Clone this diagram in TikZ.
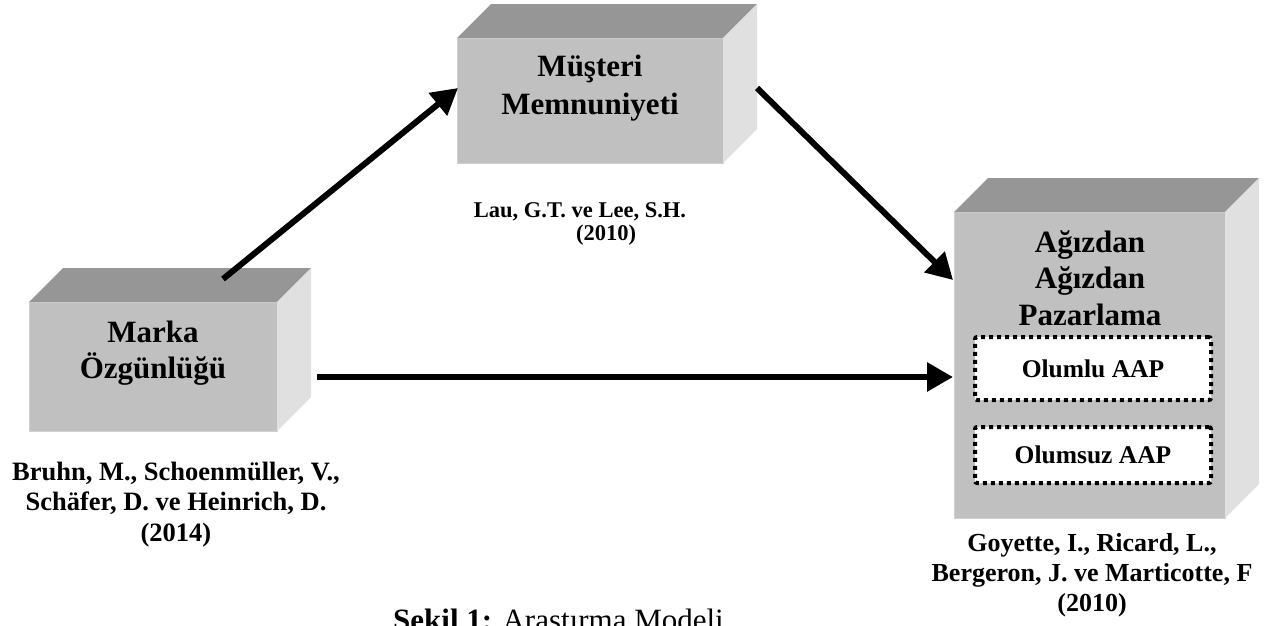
\documentclass[tikz,border=0pt]{standalone}
\usepackage{fontspec}
\setmainfont{Liberation Serif}
\usetikzlibrary{arrows.meta,calc}
\definecolor{frontgray}{HTML}{C0C0C0}
\definecolor{topgray}{HTML}{969696}
\definecolor{sidegray}{HTML}{E0E0E0}
\definecolor{edgegray}{HTML}{D0D0D0}
\newcommand\cuboidfaces[1]{%
  \fill[topgray] (#1.north west) -- ++(34,-34) -- ($(#1.north east)+(34,-34)$) -- (#1.north east) -- cycle;
  \fill[sidegray] (#1.north east) -- ++(34,-34) -- ($(#1.south east)+(34,-34)$) -- (#1.south east) -- cycle;}
\begin{document}
\begin{tikzpicture}[x=1pt,y=-1pt,
  frontface/.style={fill=frontgray, draw=edgegray, line width=1pt, inner sep=0pt, outer sep=0pt},
  boxtext/.style={font=\fontsize{31}{36.5}\selectfont\bfseries, align=center, inner sep=0pt},
  reftext/.style={font=\fontsize{26.5}{30.5}\selectfont\bfseries, align=center, inner sep=0pt},
  smallref/.style={font=\fontsize{22.5}{23}\selectfont\bfseries, inner sep=0pt, anchor=base},
  subbox/.style={fill=white, draw=black, line width=4pt, dash pattern=on 4pt off 4pt, rounded corners=2pt, inner sep=0pt, font=\fontsize{25.5}{30}\selectfont\bfseries},
  link/.style={line width=6pt, -{Triangle[length=26pt,width=28pt]}}
]
\clip (0,0) rectangle (1270,625);
\fill[white] (0,0) rectangle (1270,625);

% boxes
\node[frontface, minimum width=248pt, minimum height=129pt] (marka) at (153,366.5) {};
\node[frontface, minimum width=266pt, minimum height=125pt] (musteri) at (590,100.5) {};
\node[frontface, minimum width=271pt, minimum height=306pt] (aap) at (1089.5,365) {};
\cuboidfaces{marka}
\cuboidfaces{musteri}
\cuboidfaces{aap}

% box texts
\node[boxtext] (markat) at (153,353) {Marka\\Özgünlüğü};
\node[boxtext, font=\fontsize{31}{38}\selectfont\bfseries] (musterit) at (590,88) {Müşteri\\Memnuniyeti};
\node[boxtext] (aapt) at (1090,278) {Ağızdan\\Ağızdan\\Pazarlama};

% inner dotted boxes
\node[subbox, minimum width=236pt, minimum height=63pt] (olumlu) at (1093,368.5) {Olumlu AAP};
\node[subbox, minimum width=236pt, minimum height=56pt] (olumsuz) at (1093,455) {Olumsuz AAP};

% references
\node[reftext] (bruhn) at (176,504.5) {Bruhn, M., Schoenmüller, V.,\\Schäfer, D. ve Heinrich, D.\\(2014)};
\node[reftext, font=\fontsize{26}{30}\selectfont\bfseries] (goyette) at (1092,575.5) {Goyette, I., Ricard, L.,\\Bergeron, J. ve Marticotte, F\\(2010)};
\node[smallref] (lau) at (580,217) {Lau, G.T. ve Lee, S.H.};
\node[smallref] (lauyil) at (606,240) {(2010)};

% arrows
\draw[link] ($(marka.north)+(70,-23)$) -- ($(musteri.west)+(1,-12.5)$);
\draw[link] ($(musteri.east)+(34,-12.5)$) -- ($(aap.west)+(-1,-85)$);
\draw[link] ($(marka.east)+(40,10.5)$) -- ($(aap.west)+(-1,12)$);

% caption
\node[anchor=base west, inner sep=0pt, font=\fontsize{31}{36}\selectfont] (caption) at (393,630) {\textbf{Şekil 1:} Araştırma Modeli};
\end{tikzpicture}
\end{document}
